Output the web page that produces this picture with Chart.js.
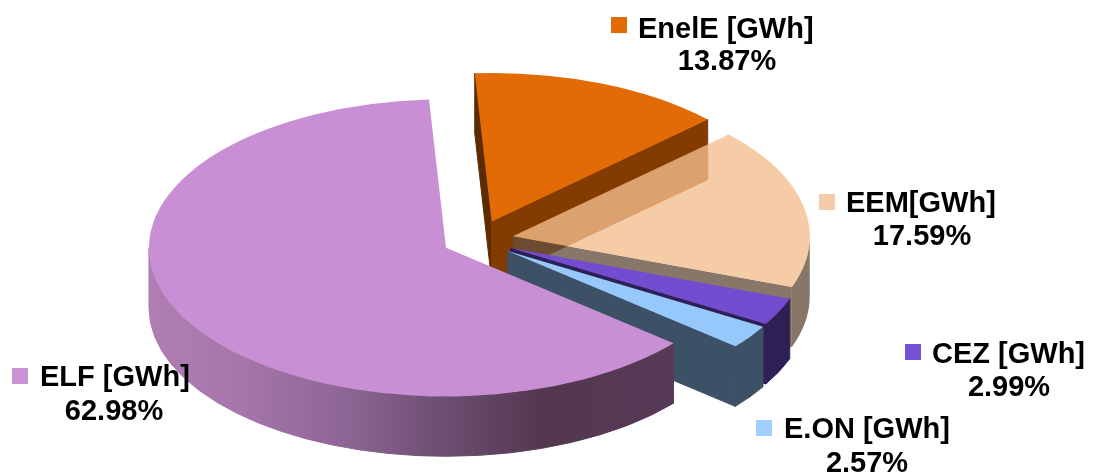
<!DOCTYPE html>
<html>
<head>
<meta charset="utf-8">
<style>
  html, body { margin: 0; padding: 0; background: #ffffff; }
  canvas { display: block; }
</style>
<script src="https://cdn.jsdelivr.net/npm/chart.js@4"></script>
</head>
<body>
<canvas id="grafico" width="1093" height="473"></canvas>
<script>
// dados
const categories = ['ELF [GWh]', 'EnelE [GWh]', 'EEM[GWh]', 'CEZ [GWh]', 'E.ON [GWh]'];
const shares = [62.98, 13.87, 17.59, 2.99, 2.57];

// cores
const topColors = ['#c98fd4', '#e26b06', 'rgba(244,190,141,0.78)', '#724dcf', '#96c8fb'];
const swatchColors = ['#c992d5', '#e26b06', '#f8cba8', '#7650d2', '#9ecfff'];
const wallColors = [null, '#843b00', 'rgba(103,79,61,0.78)', '#2e2055', '#3d5166'];
const backFaceColor = '#5c2b00';

// geometria do "3D"
const pieRadius = 297;
const pieCenterY = 240;
const squash = 0.5;
const depth = 60;
const explosions = [34.7, 39.8, 36.5, 37.2, 37.7];

// posicao dos rotulos: [quadrado x, quadrado y, texto x, linha 1, centro linha 2, linha 2]
const labelSpots = [
  [12, 368, 40, 386, 114, 420],
  [611, 17, 638, 38, 727, 70],
  [819, 194, 846, 212, 922, 245],
  [905, 344, 932, 363, 1009, 396],
  [756, 420, 784, 438, 867, 472]
];

// afasta cada fatia do centro ao longo do angulo medio
const explodePlugin = {
  id: 'explode',
  afterDatasetsUpdate(chart) {
    chart.getDatasetMeta(0).data.forEach((arc, i) => {
      const mid = (arc.startAngle + arc.endAngle) / 2;
      arc.x += Math.cos(mid) * explosions[i];
      arc.y += Math.sin(mid) * explosions[i];
    });
  }
};

function screenY(chart, y) {
  const midY = (chart.chartArea.top + chart.chartArea.bottom) / 2;
  return pieCenterY + (y - midY) * squash;
}

// preenche e, nas paredes opacas, passa um traco fino para esconder a emenda
function paintWall(ctx, color, opaque) {
  ctx.fillStyle = color;
  ctx.fill();
  if (opaque) {
    ctx.strokeStyle = color;
    ctx.lineWidth = 1;
    ctx.stroke();
  }
}

// face radial (corte da fatia), do centro ate a borda
function drawRadialFace(ctx, x, y, radius, angle, color, opaque) {
  const edgeX = x + Math.cos(angle) * radius;
  const edgeY = y + Math.sin(angle) * radius * squash;
  ctx.beginPath();
  ctx.moveTo(x, y);
  ctx.lineTo(edgeX, edgeY);
  ctx.lineTo(edgeX, edgeY + depth);
  ctx.lineTo(x, y + depth);
  ctx.closePath();
  paintWall(ctx, color, opaque);
}

// parede externa, somente a metade da frente
function drawOuterWall(ctx, x, y, radius, start, end, color, opaque) {
  for (let k = 0; k < 2; k++) {
    const lo = Math.max(start, k * 2 * Math.PI);
    const hi = Math.min(end, k * 2 * Math.PI + Math.PI);
    if (lo >= hi) continue;
    ctx.beginPath();
    ctx.ellipse(x, y, radius, radius * squash, 0, lo, hi);
    ctx.ellipse(x, y + depth, radius, radius * squash, 0, hi, lo, true);
    ctx.closePath();
    paintWall(ctx, color, opaque);
  }
}

function elfGradient(ctx, x, radius) {
  const g = ctx.createLinearGradient(x - radius, 0, x + radius * 0.77, 0);
  g.addColorStop(0, '#b07eb3');
  g.addColorStop(0.17, '#a676ab');
  g.addColorStop(0.36, '#8f6796');
  g.addColorStop(0.55, '#6f4f74');
  g.addColorStop(0.75, '#53374f');
  g.addColorStop(1, '#573a57');
  return g;
}

const depthPlugin = {
  id: 'depth',
  beforeDatasetsDraw(chart) {
    const ctx = chart.ctx;
    const arcs = chart.getDatasetMeta(0).data;

    // paredes de tras para frente: a fatia ELF (indice 0) vem por ultimo
    [1, 2, 3, 4, 0].forEach(i => {
      const arc = arcs[i];
      const x = arc.x;
      const y = screenY(chart, arc.y);
      const radius = arc.outerRadius;
      const color = i === 0 ? elfGradient(ctx, x, radius) : wallColors[i];
      const opaque = i !== 2;

      if (Math.cos(arc.startAngle) < 0) {
        drawRadialFace(ctx, x, y, radius, arc.startAngle, i === 1 ? backFaceColor : color, opaque);
      }
      if (Math.cos(arc.endAngle) > 0) {
        drawRadialFace(ctx, x, y, radius, arc.endAngle, color, opaque);
      }
      drawOuterWall(ctx, x, y, radius, arc.startAngle, arc.endAngle, color, opaque);
    });

    // o topo das fatias e desenhado pelo Chart.js, achatado
    const midY = (chart.chartArea.top + chart.chartArea.bottom) / 2;
    ctx.save();
    ctx.translate(0, pieCenterY);
    ctx.scale(1, squash);
    ctx.translate(0, -midY);
  },
  afterDatasetsDraw(chart) {
    chart.ctx.restore();
  },
  afterDraw(chart) {
    const ctx = chart.ctx;
    ctx.save();
    ctx.font = 'bold 29px "Liberation Sans", Arial, sans-serif';
    ctx.textBaseline = 'alphabetic';
    categories.forEach((name, i) => {
      const spot = labelSpots[i];
      ctx.fillStyle = swatchColors[i];
      ctx.fillRect(spot[0], spot[1], 16, 16);
      ctx.fillStyle = '#000000';
      ctx.textAlign = 'left';
      ctx.fillText(name, spot[2], spot[3]);
      ctx.textAlign = 'center';
      ctx.fillText(shares[i].toFixed(2) + '%', spot[4], spot[5]);
    });
    ctx.restore();
  }
};

new Chart(document.getElementById('grafico').getContext('2d'), {
  type: 'pie',
  data: {
    labels: categories,
    datasets: [{
      data: shares,
      backgroundColor: topColors,
      borderWidth: 0
    }]
  },
  options: {
    responsive: false,
    animation: false,
    devicePixelRatio: 1,
    rotation: 130,
    radius: pieRadius,
    layout: { padding: { right: 139 } },
    plugins: {
      legend: { display: false },
      tooltip: { enabled: false }
    }
  },
  plugins: [explodePlugin, depthPlugin]
});
</script>
</body>
</html>
